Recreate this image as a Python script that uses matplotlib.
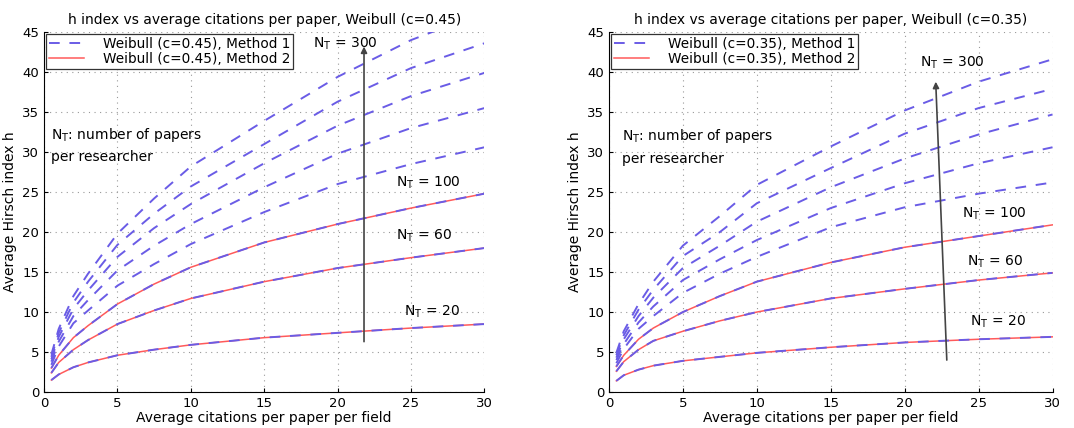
import matplotlib.pyplot as plt

cites = [0.5, 1, 2, 3, 5, 7.5, 10, 15, 20, 25, 30]
n_papers = [20, 60, 100, 140, 180, 220, 260, 300]

# Weibull c=0.45, method 1 (one list per N_T)
h_045 = {
    20: [1.5, 2.2, 3.1, 3.7, 4.6, 5.3, 5.9, 6.8, 7.4, 8.0, 8.5],
    60: [2.4, 3.7, 5.3, 6.5, 8.5, 10.2, 11.7, 13.8, 15.5, 16.8, 18.0],
    100: [3.0, 4.6, 6.8, 8.3, 11.0, 13.5, 15.6, 18.7, 21.0, 23.0, 24.8],
    140: [3.4, 5.7, 8.6, 10.2, 13.3, 16.0, 18.5, 22.5, 26.0, 28.5, 30.6],
    180: [3.8, 6.3, 9.5, 11.5, 15.2, 18.3, 21.0, 25.6, 29.8, 33.0, 35.5],
    220: [4.1, 6.9, 10.4, 12.7, 16.9, 20.5, 23.5, 28.6, 33.3, 37.0, 39.9],
    260: [4.4, 7.4, 11.2, 13.8, 18.4, 22.3, 25.7, 31.0, 36.3, 40.5, 43.6],
    300: [4.7, 7.9, 12.0, 14.8, 19.8, 24.2, 28.2, 33.9, 39.4, 44.0, 47.5],
}

# Weibull c=0.35, method 1
h_035 = {
    20: [1.4, 2.1, 2.8, 3.3, 3.9, 4.4, 4.9, 5.6, 6.2, 6.6, 6.9],
    60: [2.6, 3.8, 5.3, 6.4, 7.6, 8.9, 10.0, 11.7, 12.9, 14.0, 14.9],
    100: [3.2, 4.6, 6.6, 8.0, 10.0, 12.0, 13.8, 16.2, 18.1, 19.5, 20.9],
    140: [3.6, 5.4, 7.9, 9.5, 12.4, 14.8, 16.9, 20.6, 23.1, 24.8, 26.2],
    180: [4.0, 6.0, 8.7, 10.7, 14.0, 16.6, 19.0, 23.0, 26.1, 28.6, 30.6],
    220: [4.3, 6.6, 9.5, 11.8, 15.5, 18.3, 21.3, 25.6, 29.2, 32.2, 34.7],
    260: [4.6, 7.1, 10.3, 12.8, 17.0, 20.0, 23.6, 28.0, 32.3, 35.5, 37.9],
    300: [4.9, 7.6, 11.0, 13.8, 18.3, 22.0, 25.9, 30.7, 35.2, 38.8, 41.6],
}

# method 2 was only computed for the three lower N_T, it sits on top of method 1
method2_n = [20, 60, 100]

blue = '#6a5ce6'
red = '#ff5a5a'

fig = plt.figure(figsize=(10.74, 4.28), dpi=100)
ax1 = fig.add_axes([0.041, 0.084, 0.410, 0.841])
ax2 = fig.add_axes([0.567, 0.084, 0.413, 0.841])


def draw_panel(ax, data, c_label, arrow_pts, labels, note_xy):
    for n in method2_n:
        ax.plot(cites, data[n], color=red, lw=1.1, zorder=2)
    for n in n_papers:
        ax.plot(cites, data[n], color=blue, lw=1.4, dashes=(5.5, 5), zorder=3)

    # legend handles only
    ax.plot([], [], color=blue, lw=1.4, dashes=(5.5, 5), label='Weibull (c=%s), Method 1' % c_label)
    ax.plot([], [], color=red, lw=1.1, label='Weibull (c=%s), Method 2' % c_label)
    leg = ax.legend(loc='upper left', fontsize=9.8, handlelength=2.6, borderpad=0.2,
                    labelspacing=0.1, handletextpad=1.4, borderaxespad=0.15,
                    fancybox=False, framealpha=1)
    leg.get_frame().set_edgecolor('#333333')
    leg.get_frame().set_linewidth(0.9)

    (x0, y0), (x1, y1) = arrow_pts
    ax.annotate('', xy=(x1, y1), xytext=(x0, y0),
                arrowprops=dict(arrowstyle='-|>', color='#444444', lw=1.2,
                                mutation_scale=9, shrinkA=0, shrinkB=0))

    for txt, (tx, ty) in labels:
        ax.text(tx, ty, r'N$_{\mathregular{T}}$ = ' + txt, fontsize=10, ha='center', va='center')

    ax.text(note_xy[0], note_xy[1], r'N$_{\mathregular{T}}$: number of papers' + '\nper researcher',
            fontsize=10, ha='left', va='top', linespacing=1.6)

    ax.set_xlim(0, 30)
    ax.set_ylim(0, 45)
    ax.set_xticks(range(0, 31, 5))
    ax.set_yticks(range(0, 46, 5))
    ax.grid(True, ls=(0, (1, 4)), color='#999999', lw=0.8)
    ax.tick_params(direction='in', labelsize=9.5, length=3)
    for side in ['top', 'right']:
        ax.spines[side].set_visible(False)
    ax.set_title('h index vs average citations per paper, Weibull (c=%s)' % c_label, fontsize=10, pad=6)
    ax.set_xlabel('Average citations per paper per field', fontsize=10, labelpad=1)
    ax.set_ylabel('Average Hirsch index h', fontsize=10, labelpad=4)


draw_panel(ax1, h_045, '0.45', ((21.8, 6.3), (21.8, 43.2)),
           [('300', (20.5, 43.5)), ('100', (26.2, 26.2)), ('60', (25.9, 19.5)), ('20', (26.4, 10.0))],
           (0.5, 33.3))
draw_panel(ax2, h_035, '0.35', ((22.85, 4.0), (22.1, 38.8)),
           [('300', (23.2, 41.2)), ('100', (26.1, 22.3)), ('60', (26.1, 16.3)), ('20', (26.3, 8.8))],
           (0.85, 33.1))

fig.savefig('out.png', dpi=100)
